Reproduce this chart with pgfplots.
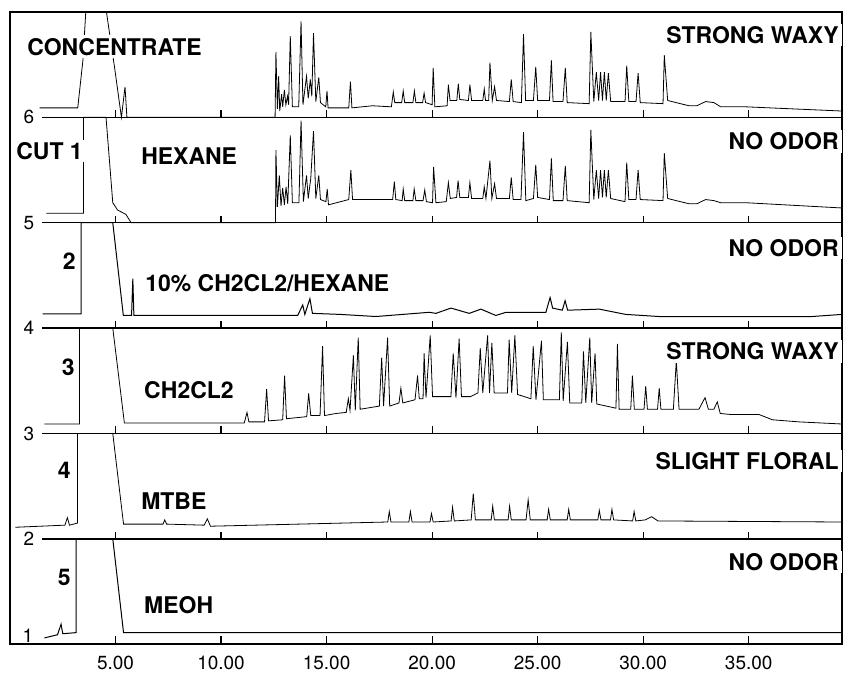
\documentclass[border=0pt]{standalone}
\usepackage{fontspec}
\setmainfont{TeX Gyre Heros}
\usepackage{pgfplots}
\pgfplotsset{compat=1.18}
\begin{document}
\begin{tikzpicture}
\tikzset{
  lab/.style={font=\fontsize{11.5}{12}\selectfont\bfseries, fill=white, inner sep=1.5pt, text height=8.3pt, text depth=0pt},
  num/.style={font=\fontsize{9.5}{10}\selectfont, inner sep=0pt},
}
\begin{axis}[
  width=416.5pt, height=316.5pt, scale only axis,
  xmin=0, xmax=39.42, ymin=1, ymax=7,
  axis line style={line width=0.75pt},
  xtick={5,10,15,20,25,30,35},
  xticklabels={5.00,10.00,15.00,20.00,25.00,30.00,35.00},
  xtick pos=bottom, tick align=inside,
  major tick length=4pt,
  tick style={line width=0.6pt, black},
  ytick=\empty,
  x tick label style={font=\fontsize{9.5}{10}\selectfont, yshift=-2.5pt},
  cycle list={{black, solid, line width=0.5pt}},
  clip=false,
]
% separator lines with upward ticks
\pgfplotsinvokeforeach{2,3,4,5,6}{
  \draw[line width=0.65pt] (axis cs:1.54,#1) -- (axis cs:39.42,#1);
  \draw[line width=0.6pt]
    (axis cs:5,#1) -- ([yshift=3.5pt]axis cs:5,#1)
    (axis cs:10,#1) -- ([yshift=3.5pt]axis cs:10,#1)
    (axis cs:15,#1) -- ([yshift=3.5pt]axis cs:15,#1)
    (axis cs:20,#1) -- ([yshift=3.5pt]axis cs:20,#1)
    (axis cs:25,#1) -- ([yshift=3.5pt]axis cs:25,#1)
    (axis cs:30,#1) -- ([yshift=3.5pt]axis cs:30,#1)
    (axis cs:35,#1) -- ([yshift=3.5pt]axis cs:35,#1);
  \node[num, anchor=east] at (axis cs:1.16,#1) {#1};
}
\node[num, anchor=south east] at (axis cs:1.12,1.01) {1};

% concentrate
\addplot coordinates {(1.40,6.09) (3.21,6.09) (3.46,6.55) (3.59,7.0) (4.57,7.0) (4.95,6.48) (5.28,6.0) (5.45,6.29) (5.54,6.0) (12.56,6.0) (12.60,6.62) (12.67,6.08) (12.73,6.39) (12.78,6.06) (12.87,6.22) (12.92,6.10) (13.0,6.26) (13.07,6.12) (13.15,6.20) (13.20,6.12) (13.28,6.77) (13.38,6.10) (13.68,6.10) (13.79,6.91) (13.88,6.12) (14.05,6.39) (14.13,6.18) (14.23,6.36) (14.30,6.20) (14.38,6.80) (14.49,6.15) (14.63,6.38) (14.71,6.14) (14.96,6.10) (15.02,6.25) (15.07,6.09) (16.05,6.09) (16.13,6.34) (16.2,6.09) (17.17,6.11) (18.07,6.10) (18.16,6.24) (18.23,6.14) (18.56,6.14) (18.63,6.25) (18.7,6.14) (19.09,6.14) (19.16,6.25) (19.23,6.14) (19.55,6.14) (19.62,6.23) (19.69,6.14) (20.0,6.12) (20.05,6.47) (20.13,6.10) (20.71,6.11) (20.77,6.31) (20.85,6.16) (21.17,6.16) (21.24,6.32) (21.31,6.17) (21.72,6.16) (21.79,6.31) (21.87,6.16) (22.4,6.16) (22.47,6.27) (22.53,6.16) (22.68,6.16) (22.74,6.52) (22.85,6.16) (22.96,6.29) (23.05,6.16) (23.66,6.15) (23.75,6.36) (23.84,6.15) (24.23,6.14) (24.33,6.79) (24.43,6.16) (24.8,6.16) (24.91,6.48) (25.0,6.16) (25.56,6.16) (25.65,6.54) (25.73,6.15) (26.2,6.15) (26.31,6.47) (26.4,6.14) (27.44,6.13) (27.52,6.81) (27.66,6.15) (27.78,6.43) (27.89,6.16) (27.98,6.43) (28.07,6.16) (28.16,6.43) (28.25,6.16) (28.35,6.42) (28.46,6.15) (29.14,6.15) (29.22,6.49) (29.32,6.15) (29.66,6.15) (29.76,6.42) (29.86,6.14) (30.94,6.13) (31.0,6.59) (31.16,6.16) (32.17,6.11) (32.54,6.11) (32.96,6.15) (33.35,6.14) (33.67,6.10) (34.86,6.10) (39.42,6.06)};

% cut 1 hexane
\addplot coordinates {(1.72,5.09) (3.48,5.09) (3.48,6.0) (4.55,6.0) (4.87,5.19) (5.10,5.12) (5.49,5.08) (5.74,5.0) (12.58,5.0) (12.60,5.69) (12.67,5.15) (12.76,5.45) (12.84,5.16) (12.92,5.33) (13.0,5.17) (13.08,5.34) (13.16,5.18) (13.28,5.83) (13.38,5.19) (13.69,5.19) (13.79,5.97) (13.9,5.20) (14.05,5.45) (14.13,5.23) (14.25,5.42) (14.38,5.87) (14.49,5.23) (14.63,5.45) (14.71,5.22) (14.97,5.20) (15.03,5.32) (15.09,5.17) (16.05,5.22) (16.15,5.50) (16.23,5.22) (18.13,5.22) (18.21,5.39) (18.28,5.22) (18.58,5.21) (18.63,5.32) (18.7,5.21) (19.09,5.21) (19.15,5.32) (19.23,5.21) (19.57,5.21) (19.65,5.31) (19.73,5.20) (20.02,5.19) (20.07,5.53) (20.18,5.19) (20.67,5.20) (20.77,5.38) (20.86,5.23) (21.16,5.24) (21.23,5.40) (21.31,5.24) (21.72,5.24) (21.79,5.38) (21.87,5.23) (22.4,5.23) (22.47,5.34) (22.55,5.23) (22.74,5.59) (22.83,5.23) (22.96,5.37) (23.05,5.23) (23.66,5.23) (23.75,5.43) (23.84,5.22) (24.21,5.22) (24.33,5.86) (24.44,5.21) (24.8,5.23) (24.91,5.55) (25.0,5.24) (25.56,5.22) (25.65,5.61) (25.74,5.21) (26.2,5.21) (26.31,5.54) (26.4,5.21) (27.44,5.19) (27.52,5.88) (27.66,5.22) (27.78,5.50) (27.89,5.23) (27.98,5.50) (28.07,5.24) (28.16,5.50) (28.25,5.24) (28.35,5.50) (28.46,5.23) (29.14,5.20) (29.22,5.57) (29.32,5.22) (29.66,5.22) (29.76,5.50) (29.86,5.22) (30.94,5.21) (31.0,5.66) (31.16,5.23) (32.17,5.18) (32.54,5.18) (32.96,5.22) (33.35,5.21) (33.67,5.19) (34.86,5.19) (39.42,5.14)};

% 2: 10% CH2Cl2/hexane
\addplot coordinates {(1.55,4.135) (3.37,4.135) (3.37,5.0) (4.87,5.0) (5.37,4.12) (5.76,4.12) (5.82,4.47) (5.87,4.12) (13.63,4.12) (13.87,4.22) (13.97,4.13) (14.21,4.28) (14.33,4.14) (15.65,4.13) (17.34,4.11) (18.6,4.13) (19.87,4.15) (20.18,4.14) (20.89,4.19) (21.76,4.14) (22.31,4.18) (23.02,4.12) (23.5,4.15) (25.39,4.15) (25.59,4.29) (25.71,4.19) (26.17,4.17) (26.3,4.26) (26.42,4.17) (27.92,4.18) (29.17,4.13) (30.76,4.11) (35.17,4.11) (38.0,4.11) (39.42,4.13)};

% 3: CH2Cl2
\addplot coordinates {(1.63,3.09) (3.29,3.09) (3.29,4.0) (4.87,4.0) (5.42,3.10) (11.1,3.10) (11.23,3.20) (11.32,3.11) (12.06,3.11) (12.16,3.42) (12.25,3.12) (12.92,3.13) (13.01,3.55) (13.1,3.14) (14.06,3.16) (14.15,3.38) (14.25,3.17) (14.69,3.17) (14.81,3.83) (14.9,3.17) (15.45,3.19) (15.93,3.20) (16.03,3.33) (16.11,3.22) (16.27,3.74) (16.36,3.22) (16.5,3.91) (16.59,3.23) (17.5,3.26) (17.61,3.72) (17.7,3.26) (17.89,3.91) (17.99,3.26) (18.43,3.29) (18.52,3.43) (18.61,3.29) (19.19,3.32) (19.31,3.55) (19.39,3.33) (19.57,3.33) (19.62,3.76) (19.71,3.34) (19.91,3.93) (20.02,3.35) (20.89,3.35) (21.0,3.76) (21.13,3.34) (21.28,3.90) (21.39,3.35) (21.82,3.35) (22.17,3.385) (22.28,3.81) (22.4,3.385) (22.63,3.93) (22.72,3.385) (22.83,3.86) (22.94,3.385) (23.57,3.385) (23.65,3.89) (23.77,3.385) (23.92,3.93) (24.05,3.37) (24.68,3.33) (24.79,3.83) (24.92,3.32) (25.18,3.88) (25.27,3.32) (26.03,3.32) (26.12,3.96) (26.21,3.31) (26.41,3.87) (26.52,3.29) (27.09,3.29) (27.17,3.78) (27.28,3.29) (27.47,3.91) (27.56,3.29) (27.72,3.76) (27.8,3.28) (28.71,3.24) (28.78,3.85) (28.86,3.23) (29.41,3.23) (29.49,3.55) (29.58,3.23) (30.04,3.23) (30.12,3.45) (30.2,3.23) (30.68,3.23) (30.76,3.43) (30.84,3.23) (31.43,3.23) (31.57,3.69) (31.7,3.23) (32.64,3.23) (32.93,3.34) (33.09,3.23) (33.35,3.23) (33.51,3.30) (33.65,3.19) (34.16,3.18) (35.49,3.18) (36.12,3.13) (37.39,3.11) (39.42,3.09)};

% 4: MTBE
\addplot coordinates {(0.25,2.11) (2.6,2.13) (2.72,2.20) (2.82,2.13) (3.2,2.15) (3.2,3.0) (4.87,3.0) (5.38,2.14) (7.25,2.14) (7.33,2.18) (7.42,2.14) (9.2,2.13) (9.35,2.19) (9.5,2.12) (17.9,2.16) (17.97,2.26) (18.05,2.16) (18.9,2.16) (18.97,2.26) (19.05,2.16) (19.9,2.16) (19.97,2.24) (20.05,2.16) (20.9,2.17) (20.97,2.30) (21.05,2.17) (21.85,2.18) (21.95,2.43) (22.05,2.18) (22.8,2.18) (22.87,2.31) (22.95,2.18) (23.6,2.18) (23.67,2.31) (23.75,2.18) (24.45,2.18) (24.55,2.37) (24.65,2.18) (25.45,2.18) (25.52,2.28) (25.6,2.18) (26.4,2.18) (26.47,2.28) (26.55,2.18) (27.85,2.18) (27.92,2.27) (28.0,2.18) (28.45,2.18) (28.52,2.28) (28.6,2.18) (29.5,2.17) (29.57,2.26) (29.65,2.17) (30.1,2.18) (30.4,2.21) (30.7,2.17) (39.42,2.16)};

% 5: MeOH
\addplot coordinates {(1.63,1.06) (2.25,1.09) (2.42,1.19) (2.50,1.10) (3.13,1.11) (3.13,2.0) (4.87,2.0) (5.38,1.11) (39.42,1.11)};

\node[lab, anchor=west] at (axis cs:0.66,6.67) {CONCENTRATE};
\node[lab, anchor=east] at (axis cs:39.42,6.78) {STRONG WAXY};
\node[lab, anchor=west] at (axis cs:0.14,5.68) {CUT 1};
\node[lab, anchor=west] at (axis cs:6.06,5.63) {HEXANE};
\node[lab, anchor=east] at (axis cs:39.42,5.77) {NO ODOR};
\node[lab, anchor=east] at (axis cs:3.27,4.635) {2};
\node[lab, anchor=west] at (axis cs:6.25,4.43) {10\% CH2CL2/HEXANE};
\node[lab, anchor=east] at (axis cs:39.42,4.76) {NO ODOR};
\node[lab, anchor=east] at (axis cs:3.22,3.63) {3};
\node[lab, anchor=west] at (axis cs:6.20,3.41) {CH2CL2};
\node[lab, anchor=east] at (axis cs:39.42,3.78) {STRONG WAXY};
\node[lab, anchor=east] at (axis cs:3.03,2.65) {4};
\node[lab, anchor=east] at (axis cs:39.42,2.74) {SLIGHT FLORAL};
\node[lab, anchor=west] at (axis cs:6.06,2.36) {MTBE};
\node[lab, anchor=east] at (axis cs:39.42,1.78) {NO ODOR};
\node[lab, anchor=east] at (axis cs:3.03,1.64) {5};
\node[lab, anchor=west] at (axis cs:6.20,1.375) {MEOH};
\end{axis}
\pgfresetboundingbox
\path[use as bounding box] ([shift={(-5pt,-14.5pt)}]current axis.south west) rectangle ([shift={(0.5pt,6pt)}]current axis.north east);
\end{tikzpicture}
\end{document}
